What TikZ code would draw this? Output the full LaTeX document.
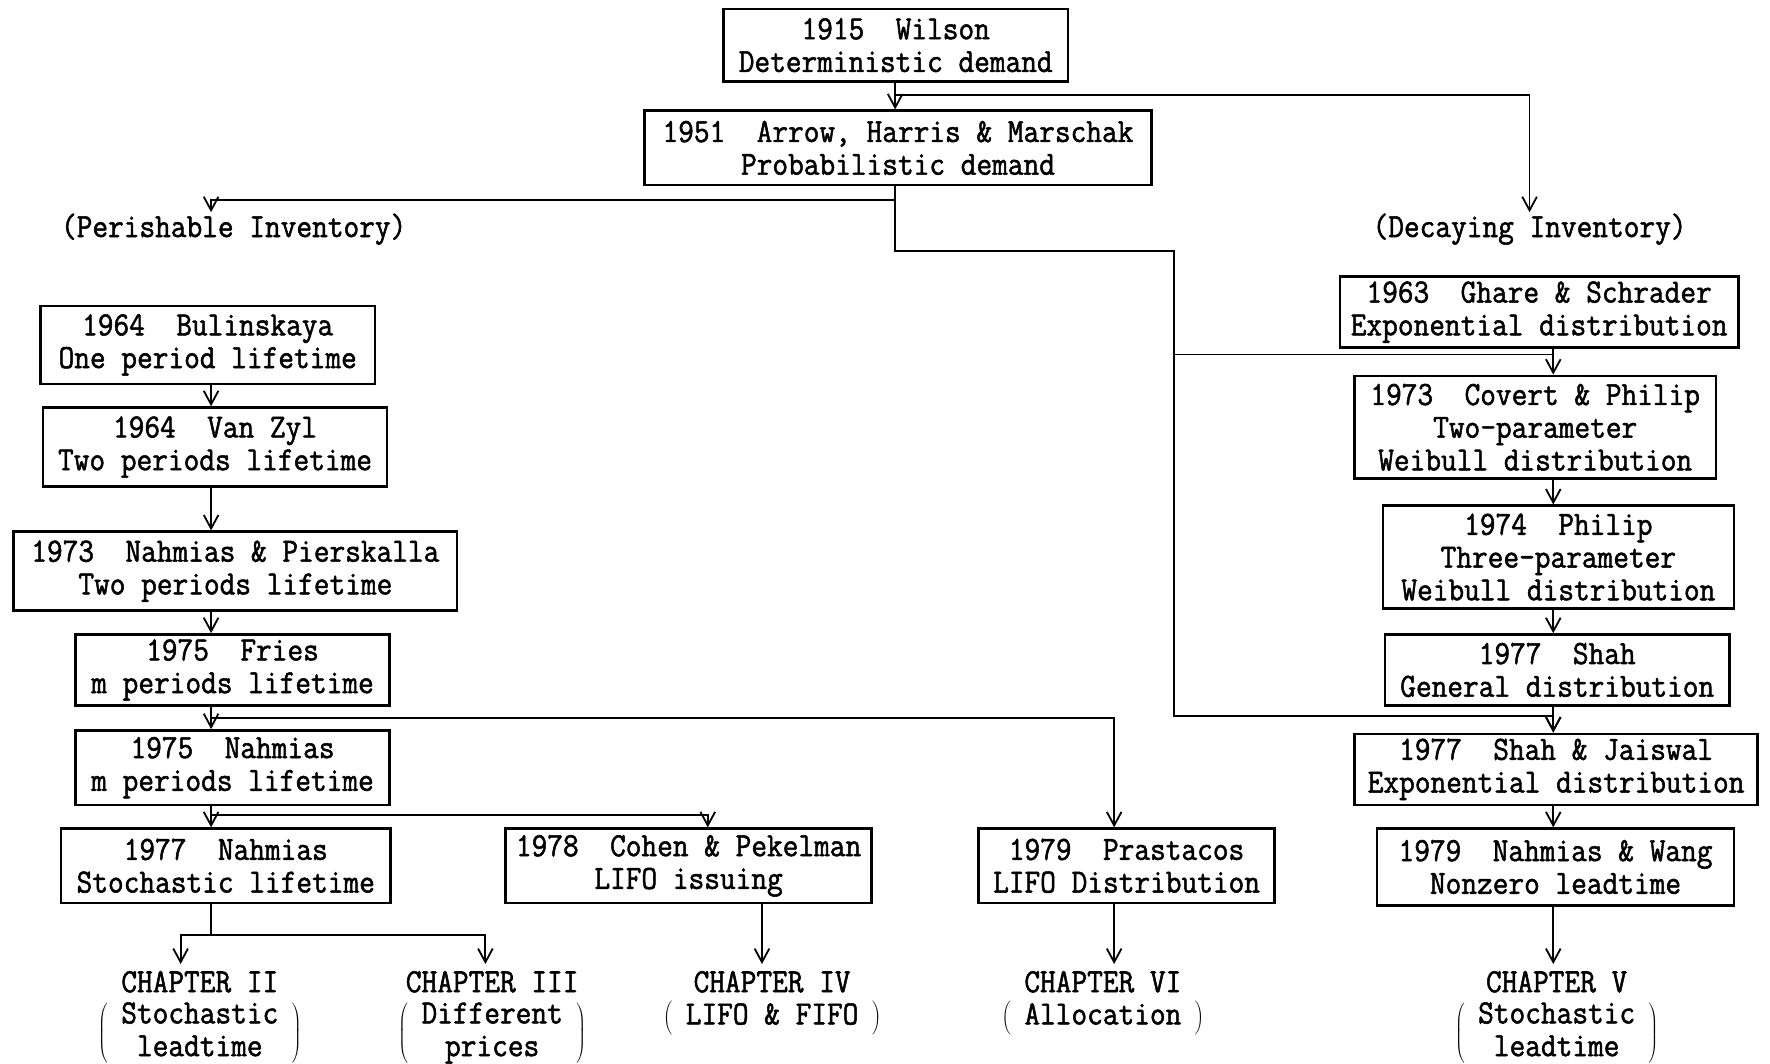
\documentclass[tikz,border=0pt]{standalone}
\usepackage{fontspec}
\usepackage{tikz}
\usetikzlibrary{arrows.meta}
\newfontfamily\typer[FakeStretch=0.9,FakeBold=1.5]{Latin Modern Mono}
\newcommand{\chapnote}[1]{$\left(\hspace{12pt}\begin{tabular}{@{}c@{}}#1\end{tabular}\hspace{12pt}\right)$}
\tikzset{
	box/.style={draw,line width=2.2pt,align=center,inner sep=2pt,
		font=\typer\fontsize{30}{29}\selectfont},
	lbl/.style={inner sep=1pt,font=\typer\fontsize{30}{29}\selectfont},
	chap/.style={anchor=north,align=center,inner sep=1pt,
		font=\typer\fontsize{30}{29}\selectfont},
	link/.style={line width=1.6pt},
	arr/.style={link,-{Straight Barb[length=12pt,width=13pt]}},
}

\begin{document}
\begin{tikzpicture}[x=1pt,y=-1pt]
	\useasboundingbox (0,0) rectangle (1568,942);
	% spines and junctions
	\coordinate (cT) at (793,0);
	\coordinate (cL) at (187,0);
	\coordinate (cR) at (1376,0);
	\coordinate (cM) at (1040,0);
	\coordinate (cP) at (987,0);
	\coordinate (cK) at (627,0);
	\coordinate (cC) at (675,0);
	\coordinate (c2) at (160,0);
	\coordinate (c3) at (430,0);
	\coordinate (jW) at (793,84);
	\coordinate (jA) at (793,177);
	\coordinate (jB) at (793,222);
	\coordinate (jG) at (1376,314);
	\coordinate (jS) at (1376,634);
	\coordinate (jF) at (187,636);
	\coordinate (jN) at (187,722);
	\coordinate (jC) at (187,828);

	% top
	\node[box,minimum width=305,minimum height=64] (wil) at (793.5,40) {1915~~Wilson\\Deterministic demand};
	\node[box,minimum width=449,minimum height=66] (ahm) at (795.5,131) {1951~~Arrow, Harris \& Marschak\\Probabilistic demand};
	\node[lbl] (per) at (207,203) {(Perishable Inventory)};
	\node[lbl] (dec) at (1355,203) {(Decaying Inventory)};

	% perishable side
	\node[box,minimum width=296,minimum height=69] (bul) at (184,305.5) {1964~~Bulinskaya\\One period lifetime};
	\node[box,minimum width=305,minimum height=70] (vzl) at (190.5,396) {1964~~Van Zyl\\Two periods lifetime};
	\node[box,minimum width=393,minimum height=70] (nps) at (208.5,506) {1973~~Nahmias \& Pierskalla\\Two periods lifetime};
	\node[box,minimum width=278,minimum height=63] (fri) at (206,593.5) {1975~~Fries\\m periods lifetime};
	\node[box,minimum width=278,minimum height=66] (n75) at (206,680) {1975~~Nahmias\\m periods lifetime};
	\node[box,minimum width=292,minimum height=66] (n77) at (200,767) {1977~~Nahmias\\Stochastic lifetime};
	\node[box,minimum width=324,minimum height=66] (coh) at (610,767) {1978~~Cohen \& Pekelman\\LIFO issuing};
	\node[box,minimum width=262,minimum height=66] (pra) at (998,767) {1979~~Prastacos\\LIFO Distribution};

	% decaying side
	\node[box,minimum width=353,minimum height=63] (gha) at (1363.5,276.5) {1963~~Ghare \& Schrader\\Exponential distribution};
	\node[box,minimum width=320,minimum height=91] (cov) at (1360,378.5) {1973~~Covert \& Philip\\Two-parameter\\Weibull distribution};
	\node[box,minimum width=311,minimum height=91] (phi) at (1380.5,493.5) {1974~~Philip\\Three-parameter\\Weibull distribution};
	\node[box,minimum width=305,minimum height=63] (sha) at (1379.5,593.5) {1977~~Shah\\General distribution};
	\node[box,minimum width=357,minimum height=63] (shj) at (1378.5,681.5) {1977~~Shah \& Jaiswal\\Exponential distribution};
	\node[box,minimum width=316,minimum height=68] (nwa) at (1378,768) {1979~~Nahmias \& Wang\\Nonzero leadtime};

	% chapters
	\node[chap] (ch2) at (177,859) {CHAPTER II\\[6pt]\chapnote{Stochastic\\leadtime}};
	\node[chap] (ch3) at (436,859) {CHAPTER III\\[6pt]\chapnote{Different\\prices}};
	\node[chap] (ch4) at (684,859) {CHAPTER IV\\[0pt]\chapnote{LIFO \& FIFO}};
	\node[chap] (ch6) at (977,859) {CHAPTER VI\\[0pt]\chapnote{Allocation}};
	\node[chap] (ch5) at (1379,859) {CHAPTER V\\[6pt]\chapnote{Stochastic\\leadtime}};

	% connectors
	\draw[arr] (cT |- wil.south) -- (cT |- ahm.north);
	\draw[arr] (jW) -| (dec.north);
	\draw[arr] (cT |- ahm.south) |- (cL |- jA) -- (cL |- per.north);
	\draw[arr] (jA) |- (cM |- jB) |- (jS) -- (cR |- shj.north);
	\draw[link] (cM |- jG) -- (jG);
	\foreach \a/\b in {bul/vzl,vzl/nps,nps/fri,fri/n75,n75/n77}
	\draw[arr] (cL |- \a.south) -- (cL |- \b.north);
	\foreach \a/\b in {gha/cov,cov/phi,phi/sha,sha/shj,shj/nwa}
	\draw[arr] (cR |- \a.south) -- (cR |- \b.north);
	\draw[arr] (jF) -| (cP |- pra.north);
	\draw[arr] (jN) -| (cK |- coh.north);
	\draw[link] (cL |- n77.south) -- (jC);
	\draw[arr,shorten >=5pt] (jC) -| (c2 |- ch2.north);
	\draw[arr,shorten >=5pt] (jC) -| (c3 |- ch3.north);
	\draw[arr,shorten >=5pt] (cC |- coh.south) -- (cC |- ch4.north);
	\draw[arr,shorten >=5pt] (cP |- pra.south) -- (cP |- ch6.north);
	\draw[arr,shorten >=5pt] (cR |- nwa.south) -- (cR |- ch5.north);
\end{tikzpicture}
\end{document}
